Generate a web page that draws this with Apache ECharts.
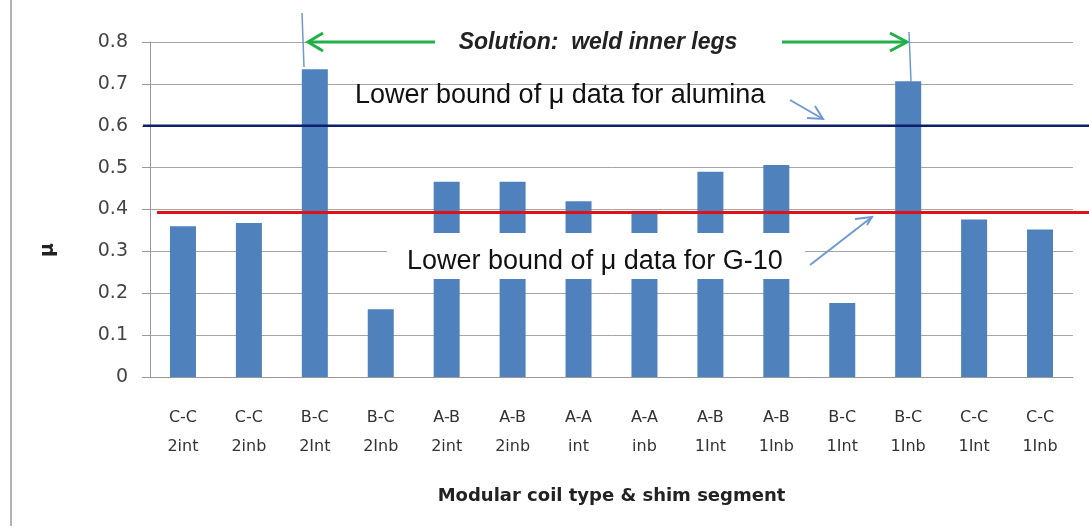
<!DOCTYPE html>
<html>
<head>
<meta charset="utf-8">
<script src="https://cdn.jsdelivr.net/npm/echarts@6/dist/echarts.min.js"></script>
<style>
html, body { margin: 0; padding: 0; background: #fff; }
#main { width: 1089px; height: 531px; }
</style>
</head>
<body>
<div id="main"></div>
<script>
// coil type & shim segment
var categories = ['C-C\n2int', 'C-C\n2inb', 'B-C\n2Int', 'B-C\n2Inb', 'A-B\n2int', 'A-B\n2inb', 'A-A\nint',
	'A-A\ninb', 'A-B\n1Int', 'A-B\n1Inb', 'B-C\n1Int', 'B-C\n1Inb', 'C-C\n1Int', 'C-C\n1Inb'];
var mu = [0.36, 0.368, 0.735, 0.162, 0.466, 0.466, 0.42, 0.397, 0.49, 0.506, 0.177, 0.706, 0.376, 0.352];
var yTicks = [0, 0.1, 0.2, 0.3, 0.4, 0.5, 0.6, 0.7, 0.8];
var aluminaBound = 0.6;
var g10Bound = 0.393;

var blue = '#4f81bd', light = '#6f9ad0', green = '#22b04a';

var c = echarts.init(document.getElementById('main'));
c.setOption({
	animation : false,
	grid : { left : 150, right : 16, top : 42, bottom : 154 },
	xAxis : {
		type : 'category',
		data : categories,
		axisLine : { lineStyle : { color : '#999' } },
		axisTick : { length : 6, lineStyle : { color : '#999' } },
		axisLabel : {
			margin : 26,
			fontFamily : 'DejaVu Sans',
			fontSize : 16,
			lineHeight : 29,
			color : '#333'
		},
		name : 'Modular coil type & shim segment',
		nameLocation : 'middle',
		nameGap : 110,
		nameTextStyle : { fontFamily : 'DejaVu Sans', fontWeight : 'bold', fontSize : 18, color : '#222' }
	},
	yAxis : {
		type : 'value',
		min : 0,
		max : 0.8,
		interval : 0.1,
		axisLine : { show : true, lineStyle : { color : '#999' } },
		axisTick : { show : true, length : 8, lineStyle : { color : '#999' } },
		splitLine : { lineStyle : { color : '#a6a6a6' } },
		axisLabel : {
			margin : 22,
			fontFamily : 'DejaVu Sans',
			fontSize : 19,
			color : '#444',
			formatter : function (v) { return String(Math.round(v * 10) / 10); }
		}
	},
	series : [{
		type : 'bar',
		data : mu,
		barWidth : 26,
		itemStyle : { color : blue },
		z : 2
	}]
});

var yA = c.convertToPixel({ yAxisIndex : 0 }, aluminaBound);
var yG = c.convertToPixel({ yAxisIndex : 0 }, g10Bound);

c.setOption({
	graphic : [
		// frame on the left
		{ type : 'line', z : 10, shape : { x1 : 11, y1 : 0, x2 : 11, y2 : 526 }, style : { stroke : '#999', lineWidth : 1.5 } },
		// y axis title
		{ type : 'text', z : 10, x : 48, y : 250, rotation : Math.PI / 2,
			style : { text : 'μ', font : 'bold 19px "DejaVu Sans"', fill : '#222', align : 'center', verticalAlign : 'middle' } },
		// bound lines, run out past the plot
		{ type : 'line', z : 20, shape : { x1 : 143, y1 : yA, x2 : 1089, y2 : yA }, style : { stroke : '#0d1f6b', lineWidth : 2.5 } },
		{ type : 'line', z : 20, shape : { x1 : 157, y1 : yG, x2 : 1089, y2 : yG }, style : { stroke : '#d9141b', lineWidth : 3 } },
		// solution banner
		{ type : 'rect', z : 30, shape : { x : 307, y : 34, width : 601, height : 16 }, style : { fill : '#fff' } },
		{ type : 'text', z : 31, x : 598, y : 43,
			style : { text : 'Solution:  weld inner legs', font : 'italic bold 23px "Liberation Sans"', fill : '#222', align : 'center', verticalAlign : 'middle' } },
		{ type : 'line', z : 31, shape : { x1 : 308, y1 : 42, x2 : 435, y2 : 42 }, style : { stroke : green, lineWidth : 3 } },
		{ type : 'polyline', z : 31, shape : { points : [[323, 33], [308, 42], [323, 51]] }, style : { stroke : green, lineWidth : 3, fill : null } },
		{ type : 'line', z : 31, shape : { x1 : 782, y1 : 42, x2 : 907, y2 : 42 }, style : { stroke : green, lineWidth : 3 } },
		{ type : 'polyline', z : 31, shape : { points : [[890, 33], [907, 42], [890, 51]] }, style : { stroke : green, lineWidth : 3, fill : null } },
		// callout lines above the tall bars
		{ type : 'line', z : 31, shape : { x1 : 302, y1 : 13, x2 : 304, y2 : 67 }, style : { stroke : light, lineWidth : 1.5 } },
		{ type : 'line', z : 31, shape : { x1 : 909, y1 : 32, x2 : 911, y2 : 82 }, style : { stroke : light, lineWidth : 1.5 } },
		// alumina note
		{ type : 'text', z : 31, x : 355, y : 96,
			style : { text : 'Lower bound of μ data for alumina', font : '27px "Liberation Sans"', fill : '#111', align : 'left', verticalAlign : 'middle' } },
		{ type : 'line', z : 31, shape : { x1 : 790, y1 : 100, x2 : 823, y2 : 119 }, style : { stroke : light, lineWidth : 2 } },
		{ type : 'polyline', z : 31, shape : { points : [[815, 106], [823, 119], [807, 118]] }, style : { stroke : light, lineWidth : 2, fill : null } },
		// G-10 note sits on a white box over the bars
		{ type : 'rect', z : 30, shape : { x : 387, y : 233, width : 418, height : 46 }, style : { fill : '#fff' } },
		{ type : 'text', z : 31, x : 407, y : 262,
			style : { text : 'Lower bound of μ data for G-10', font : '27px "Liberation Sans"', fill : '#111', align : 'left', verticalAlign : 'middle' } },
		{ type : 'line', z : 31, shape : { x1 : 810, y1 : 265, x2 : 872, y2 : 217 }, style : { stroke : light, lineWidth : 2 } },
		{ type : 'polyline', z : 31, shape : { points : [[855, 219], [872, 217], [867, 225]] }, style : { stroke : light, lineWidth : 2, fill : null } }
	]
});
</script>
</body>
</html>
